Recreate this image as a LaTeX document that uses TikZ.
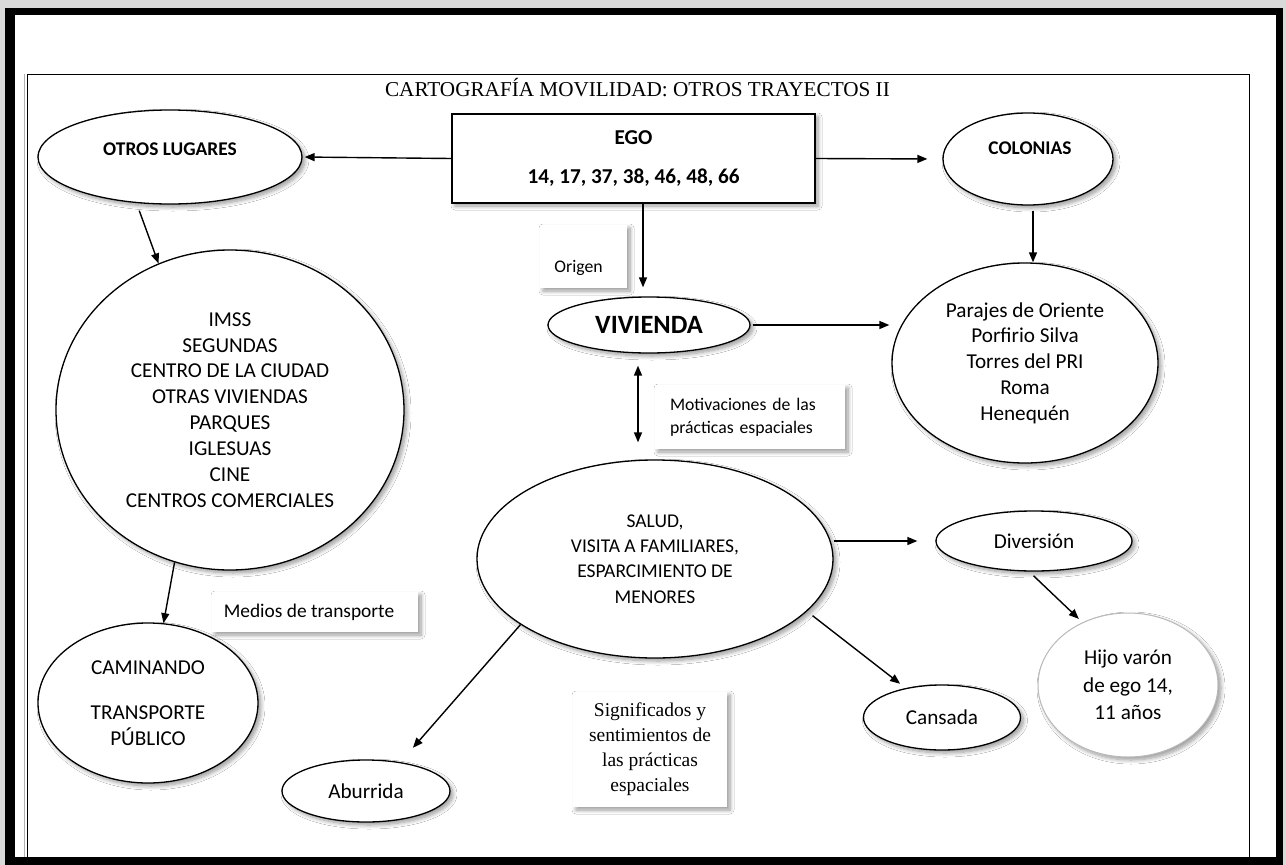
\documentclass[tikz,border=0pt]{standalone}
\usepackage{fontspec}
\setmainfont{Carlito}
\newfontfamily\serifface{Liberation Serif}
\usetikzlibrary{shapes.geometric,arrows.meta,shadows.blur}

\begin{document}
\begin{tikzpicture}[x=1pt,y=-1pt,
  sh/.style={blur shadow={shadow xshift=3pt,shadow yshift=-3pt,
      shadow blur radius=4pt,shadow blur steps=8,shadow opacity=40}},
  oval/.style={ellipse,draw,line width=1.3pt,fill=white,inner sep=0pt,
      align=center,sh},
  note/.style={rectangle,fill=white,inner sep=0pt,sh},
  arr/.style={line width=1.4pt,-{Triangle[length=10pt,width=8pt]}},
  dblarr/.style={line width=1.4pt,{Triangle[length=10pt,width=8pt]}-{Triangle[length=10pt,width=8pt]}},
  body/.style={font=\fontsize{21.2}{25.9}\selectfont},
  small/.style={font=\fontsize{17.7}{23}\selectfont},
  capsb/.style={font=\bfseries\fontsize{19.4}{23}\selectfont},
]
\useasboundingbox (0,0) rectangle (1286,865);

% page frame
\fill[gray!30] (0,0) rectangle (1286,865);
\fill[black] (5,8) rectangle (1283,865);
\fill[white] (15,15) rectangle (1276,857);
\draw[gray!60,line width=0.8pt] (24,74) -- (24,857);
\draw[line width=0.9pt] (27,74) rectangle (1249,857);

% title
\node[anchor=base,inner sep=0pt] (title) at (637.5,96)
  {\serifface\fontsize{21.2}{25}\selectfont CARTOGRAFÍA MOVILIDAD: OTROS TRAYECTOS II};

% central box
\node[draw,line width=1.3pt,fill=white,sh,minimum width=363pt,minimum height=89pt,
      inner sep=0pt,align=center,font=\bfseries\fontsize{21.2}{25.9}\selectfont]
  (ego) at (633.5,158.5) {EGO\\[14pt]14, 17, 37, 38, 46, 48, 66};

% upper ellipses
\node[oval,minimum width=264pt,minimum height=94pt] (otros) at (170,157) {};
\node[capsb] (otrosT) at (170,149) {OTROS LUGARES};
\node[oval,minimum width=170pt,minimum height=92pt] (colonias) at (1028,159) {};
\node[capsb] (coloniasT) at (1030,148) {COLONIAS};

% places
\node[oval,body,minimum width=348pt,minimum height=320pt] (lugares) at (230,410)
  {IMSS\\SEGUNDAS\\CENTRO DE LA CIUDAD\\OTRAS VIVIENDAS\\PARQUES\\IGLESUAS\\CINE\\CENTROS COMERCIALES};
\node[oval,body,font=\fontsize{21.2}{25.8}\selectfont,minimum width=266pt,minimum height=200pt]
  (parajes) at (1025,363)
  {Parajes de Oriente\\Porfirio Silva\\Torres del PRI\\Roma\\Henequén};

% home
\node[oval,minimum width=202pt,minimum height=56pt,
      font=\bfseries\fontsize{26.4}{30}\selectfont] (viv) at (649,325) {VIVIENDA};

% label boxes
\node[note,minimum width=87pt,minimum height=63pt] (origen) at (583.5,256.5) {};
\node[small] (origenT) at (578.5,268) {Origen};
\node[note,small,minimum width=190pt,minimum height=64pt,text width=160pt,
      inner xsep=15pt,align=left] (motiv) at (750,417)
  {Motivaciones de las\\prácticas espaciales};
\node[note,minimum width=206pt,minimum height=40pt] (medios) at (315,612) {};
\node[font=\fontsize{19.4}{23}\selectfont] (mediosT) at (309,612) {Medios de transporte};
\node[note,minimum width=154pt,minimum height=115pt,align=center,
      font=\serifface\fontsize{19.5}{25}\selectfont] (signif) at (650,749.5)
  {Significados y\\sentimientos de\\las prácticas\\espaciales};

% motives
\node[oval,font=\fontsize{19.5}{25.3}\selectfont,minimum width=356pt,minimum height=198pt]
  (salud) at (655,559)
  {SALUD,\\VISITA A FAMILIARES,\\ESPARCIMIENTO DE\\MENORES};

% transport
\node[oval,body,minimum width=220pt,minimum height=160pt] (camin) at (148,703)
  {CAMINANDO\\[19pt]TRANSPORTE\\PÚBLICO};

% feelings and outcomes
\node[oval,body,minimum width=196pt,minimum height=60pt] (div) at (1034,541) {Diversión};
\node[oval,body,draw=gray!55,line width=1pt,font=\fontsize{21.2}{27.5}\selectfont,
      minimum width=180pt,minimum height=144pt] (hijo) at (1128,685)
  {Hijo varón\\de ego 14,\\11 años};
\node[oval,body,minimum width=157pt,minimum height=65pt] (cans) at (942,717.5) {Cansada};
\node[oval,body,minimum width=168pt,minimum height=62pt] (abur) at (366,791) {Aburrida};

% connectors
\draw[arr,shorten >=2pt] (ego.west) -- (otros.east);
\draw[arr,shorten >=15pt] (ego.east) -- (colonias.west);
\draw[arr,shorten <=8pt] (otros.234) -- (lugares.116);
\draw[arr,shorten >=9pt] ([xshift=9.5pt]ego.south) -- ([xshift=-6pt]viv.north);
\draw[arr,shorten <=2pt,shorten >=2pt] (viv.east) -- (viv.east -| parajes.west);
\draw[arr,shorten <=5pt] ([xshift=5pt]colonias.south) -- ([xshift=5pt]colonias.south |- parajes.north);
\draw[dblarr,shorten <=12pt,shorten >=17pt] ([xshift=-11pt]viv.south) -- ([xshift=-17pt]salud.north);
\draw[arr] (lugares.-110) -- (camin.79);
\draw[arr,shorten >=18pt] (salud.east |- div.west) -- (div.west);
\draw[arr,shorten <=6pt,shorten >=5pt] (div.-99) -- (hijo.126);
\draw[arr,shorten <=7pt,shorten >=7pt] (salud.-19.6) -- (cans.141);
\draw[arr,shorten >=19pt] (salud.206) -- (abur.40);
\end{tikzpicture}
\end{document}
